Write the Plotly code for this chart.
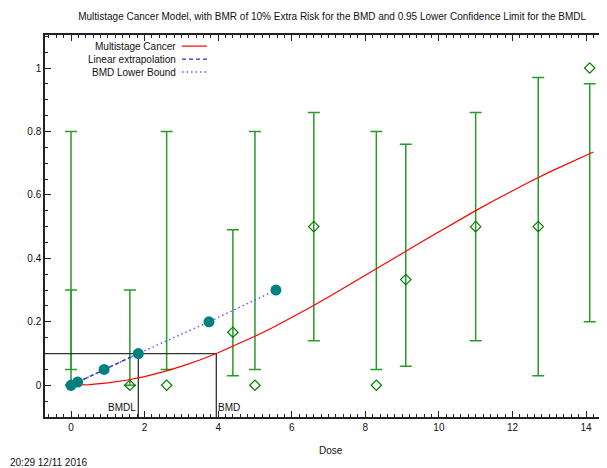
import plotly.graph_objects as go

# ---- data ----
dose = [0, 0, 1.6, 2.6, 4.4, 5.0, 6.6, 8.3, 9.1, 11.0, 12.7, 14.1]
resp = [0, 0, 0, 0, 0.167, 0, 0.5, 0, 0.333, 0.5, 0.5, 1.0]
ci_upper = [0.8, 0.3, 0.3, 0.8, 0.49, 0.8, 0.86, 0.8, 0.76, 0.86, 0.97, 0.95]
ci_lower = [0.05, 0.0, 0.0, 0.05, 0.03, 0.05, 0.14, 0.05, 0.06, 0.14, 0.03, 0.2]

curve_x = [0, 0.5, 1, 1.5, 2, 2.5, 3, 3.5, 4, 4.5, 5, 5.5, 6, 6.5, 7, 7.5, 8,
           8.5, 9, 9.5, 10, 10.5, 11, 11.5, 12, 12.5, 13, 13.5, 14, 14.2]
curve_y = [0, 0.0021, 0.0074, 0.0159, 0.0275, 0.0421, 0.0596, 0.0797, 0.1024,
           0.1273, 0.1543, 0.1831, 0.2137, 0.2454, 0.2783, 0.3119, 0.3461,
           0.3806, 0.4153, 0.4498, 0.4839, 0.5175, 0.5504, 0.5824, 0.6134,
           0.6433, 0.6719, 0.6992, 0.7251, 0.7351]

lin_x = [0, 1.83]
lin_y = [0, 0.1]

bmdl_x = [0, 0.18, 0.9, 1.83, 3.75, 5.57]
bmdl_y = [0, 0.01, 0.05, 0.1, 0.2, 0.3]

BMD = 3.95
BMDL = 1.83
BMR = 0.1

x_range = [-0.707, 14.787]
y_range = [-0.1, 1.104]
x_ticks = [0, 2, 4, 6, 8, 10, 12, 14]
y_ticks = [0, 0.2, 0.4, 0.6, 0.8, 1]

title = "Multistage Cancer Model, with BMR of 10% Extra Risk for the BMD and 0.95 Lower Confidence Limit for the BMDL"
legend_names = ["Multistage Cancer", "Linear extrapolation", "BMD Lower Bound"]

FONT = "Liberation Sans, Arial, Helvetica, sans-serif"
GREEN = "#2a9a2a"
RED = "#ff0000"
DASH_BLUE = "#2b2bbf"
DOT_BLUE = "#5555ff"
TEAL = "#00807f"

fig = go.Figure()

# error bars + observed
fig.add_trace(go.Scatter(
    x=dose, y=resp, mode="markers",
    marker=dict(symbol="diamond-open", size=8, color="#008000", line=dict(width=1.2)),
    error_y=dict(type="data", symmetric=False,
                 array=[u - r for u, r in zip(ci_upper, resp)],
                 arrayminus=[r - l for r, l in zip(resp, ci_lower)],
                 color=GREEN, thickness=1.5, width=6),
    showlegend=False, hoverinfo="skip"))

# BMD lines
fig.add_trace(go.Scatter(x=[x_range[0], BMD, BMD], y=[BMR, BMR, y_range[0]],
                         mode="lines", line=dict(color="#333333", width=1.3),
                         showlegend=False))
fig.add_trace(go.Scatter(x=[BMDL, BMDL], y=[BMR, y_range[0]],
                         mode="lines", line=dict(color="#333333", width=1.3),
                         showlegend=False))

# model curve
fig.add_trace(go.Scatter(x=curve_x, y=curve_y, mode="lines",
                         line=dict(color=RED, width=1.2), showlegend=False))

# BMD lower bound (dotted with points)
fig.add_trace(go.Scatter(x=bmdl_x, y=bmdl_y, mode="lines",
                         line=dict(color=DOT_BLUE, width=1.4, dash="1.5px,3px"),
                         showlegend=False))
# linear extrapolation
fig.add_trace(go.Scatter(x=lin_x, y=lin_y, mode="lines",
                         line=dict(color=DASH_BLUE, width=1.3, dash="4px,3px"),
                         showlegend=False))
fig.add_trace(go.Scatter(x=bmdl_x, y=bmdl_y, mode="markers",
                         marker=dict(color=TEAL, size=11), showlegend=False))

# manual legend (gnuplot style: text then sample)
leg_y = [0.971, 0.937, 0.903]
leg_styles = [dict(color=RED, width=1.2, dash="solid"),
              dict(color=DASH_BLUE, width=1.3, dash="4px,3px"),
              dict(color=DOT_BLUE, width=1.4, dash="1.5px,3px")]
for name, yy, st in zip(legend_names, leg_y, leg_styles):
    fig.add_annotation(x=0.2333, y=yy, xref="paper", yref="paper", text=name,
                       showarrow=False, xanchor="right", yanchor="middle",
                       font=dict(size=10, color="#111111", family=FONT))
    fig.add_shape(type="line", xref="paper", yref="paper", x0=0.2404, x1=0.2842,
                  y0=yy, y1=yy, line=st)

fig.add_annotation(x=BMDL, y=-0.069, text="BMDL", showarrow=False,
                   xanchor="right", yanchor="middle",
                   font=dict(size=10, color="#111111", family=FONT))
fig.add_annotation(x=BMD, y=-0.069, text="BMD", showarrow=False,
                   xanchor="left", yanchor="middle",
                   font=dict(size=10, color="#111111", family=FONT))
fig.add_annotation(x=0.502, y=-0.089, xref="paper", yref="paper", text="Dose",
                   showarrow=False, xanchor="center", yanchor="middle",
                   font=dict(size=10, color="#111111", family=FONT))
fig.add_annotation(x=-0.065, y=-0.118, xref="paper", yref="paper",
                   text="20:29 12/11 2016", showarrow=False,
                   xanchor="left", yanchor="middle",
                   font=dict(size=10, color="#111111", family=FONT))

fig.update_layout(
    width=607, height=468,
    margin=dict(l=37, r=0, t=27, b=59, autoexpand=False),
    paper_bgcolor="white", plot_bgcolor="white",
    title=dict(text=title, x=0.534, xanchor="center", y=0.981, yanchor="middle",
               font=dict(size=10, color="#111111", family=FONT)),
    font=dict(family=FONT, size=10, color="#111111"),
    showlegend=False,
)
fig.update_xaxes(range=x_range, tickvals=x_ticks, showgrid=False, zeroline=False,
                 automargin=False,
                 showline=True, linecolor="#222222", linewidth=1.5, mirror="allticks",
                 ticks="inside", ticklen=6, tickcolor="#222222",
                 minor=dict(dtick=0.2, ticks="inside", ticklen=3, tickcolor="#222222"),
                 tickfont=dict(size=10, family=FONT))
fig.update_yaxes(range=y_range, tickvals=y_ticks, showgrid=False, zeroline=False,
                 automargin=False,
                 showline=True, linecolor="#222222", linewidth=1.5,
                 ticks="inside", ticklen=6, tickcolor="#222222",
                 minor=dict(dtick=0.05, ticks="inside", ticklen=3, tickcolor="#222222"),
                 tickfont=dict(size=10, family=FONT))

fig.write_html("out.html")
